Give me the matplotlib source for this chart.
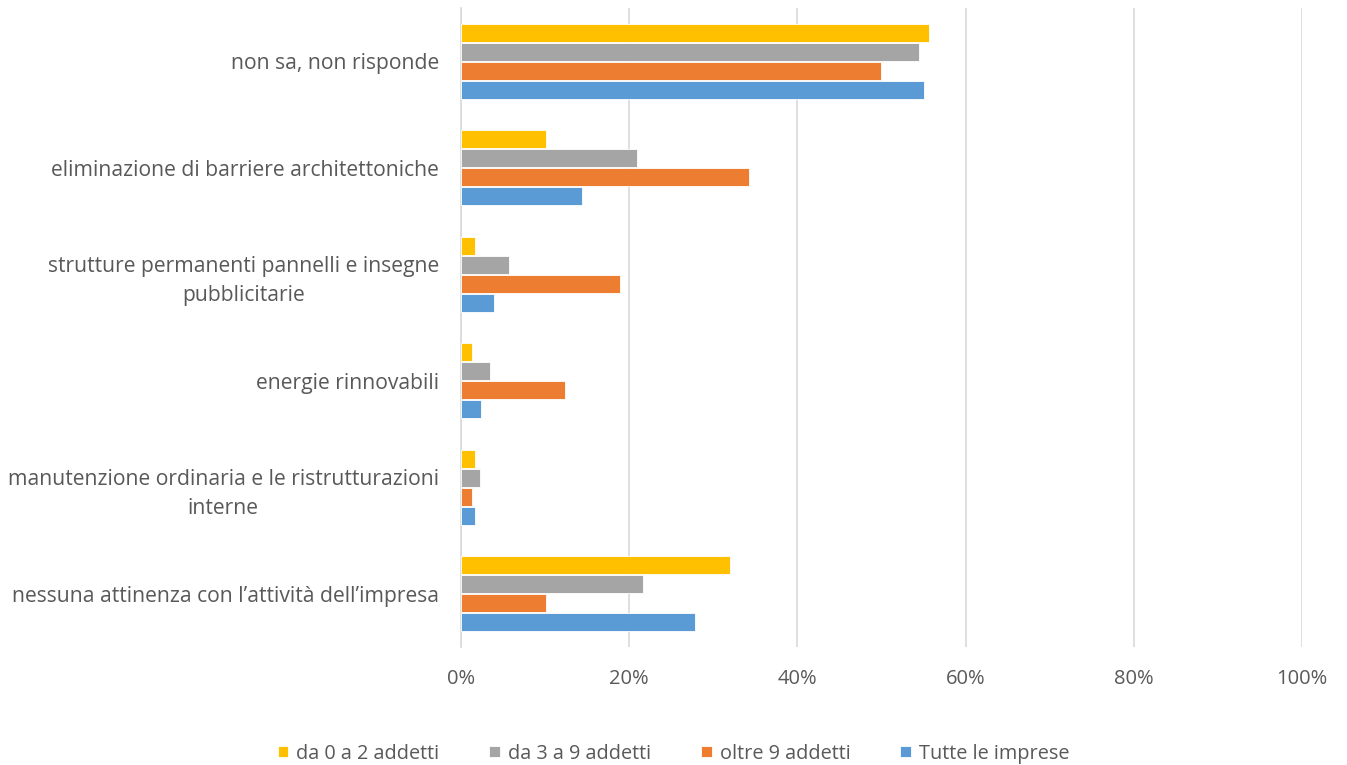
import numpy as np
import matplotlib
matplotlib.use("Agg")
import matplotlib.pyplot as plt
from matplotlib.ticker import FuncFormatter

plt.rcParams['font.family'] = ['Open Sans', 'DejaVu Sans']

# categories, top to bottom as in the chart
categories = [
    "non sa, non risponde",
    "eliminazione di barriere architettoniche",
    "strutture permanenti pannelli e insegne\npubblicitarie",
    "energie rinnovabili",
    "manutenzione ordinaria e le ristrutturazioni\ninterne",
    "nessuna attinenza con l\u2019attivit\u00e0 dell\u2019impresa",
]
series_names = ["da 0 a 2 addetti", "da 3 a 9 addetti", "oltre 9 addetti", "Tutte le imprese"]
da_0_a_2 = [55.6, 10.1, 1.7, 1.25, 1.7, 32.0]
da_3_a_9 = [54.5, 20.9, 5.7, 3.4, 2.3, 21.6]
oltre_9 = [49.9, 34.2, 18.9, 12.4, 1.25, 10.1]
tutte = [55.0, 14.4, 3.9, 2.4, 1.7, 27.8]
colors = ["#FFC000", "#A5A5A5", "#ED7D31", "#5B9BD5"]

fig = plt.figure(figsize=(13.47, 7.65), dpi=100)
ax = fig.add_axes([0.3423, 0.154, 0.6243, 0.8355])

n = len(categories)
y = np.arange(n)
h = 0.178
offsets = [-1.5 * h, -0.5 * h, 0.5 * h, 1.5 * h]
for vals, name, c, off in zip([da_0_a_2, da_3_a_9, oltre_9, tutte], series_names, colors, offsets):
    ax.barh(y + off, vals, height=h * 0.95, color=c, label=name,
            edgecolor='white', linewidth=0.6, zorder=3)

ax.set_ylim(n - 0.5, -0.5)
ax.set_xlim(0, 100)
ax.set_xticks(np.arange(0, 101, 20))
ax.xaxis.set_major_formatter(FuncFormatter(lambda v, p: "%d%%" % v))
ax.set_yticks(y)
ax.set_yticklabels(categories, fontsize=15.2, color='#595959',
                   multialignment='center', linespacing=1.5)
ax.tick_params(axis='x', length=0, pad=16, labelsize=14.5, labelcolor='#595959')
ax.tick_params(axis='y', length=0, pad=16)
ax.grid(axis='x', color='#D9D9D9', linewidth=1.2, zorder=0)
for s in ['top', 'right', 'bottom']:
    ax.spines[s].set_visible(False)
ax.spines['left'].set_color('#D9D9D9')
ax.spines['left'].set_linewidth(1.2)

handles, labels = ax.get_legend_handles_labels()
fig.legend(handles, labels, loc='center', bbox_to_anchor=(0.5, 0.015), ncol=4,
           frameon=False, fontsize=14.3, labelcolor='#595959', handlelength=0.55,
           handleheight=0.55, handletextpad=0.4, columnspacing=2.5)

fig.savefig("out.png", dpi=100)
